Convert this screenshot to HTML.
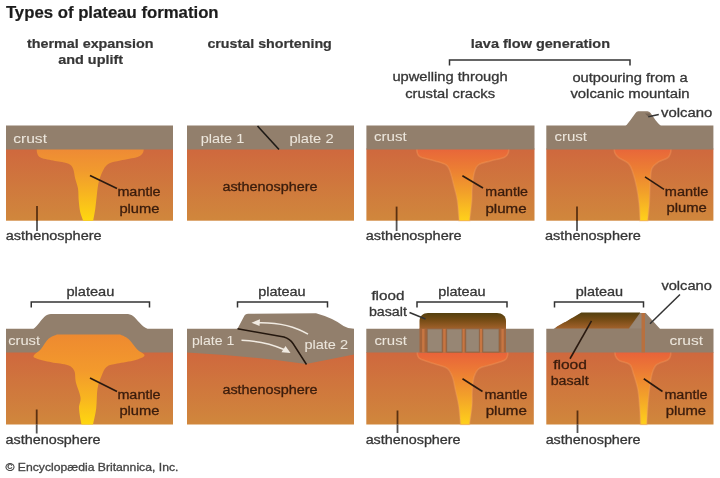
<!DOCTYPE html>
<html><head><meta charset="utf-8"><title>Types of plateau formation</title>
<style>
html,body{margin:0;padding:0;background:#fff;width:720px;height:478px;overflow:hidden}
svg{display:block;filter:blur(0.3px)}
text{font-family:"Liberation Sans",sans-serif}
</style></head><body>
<svg width="720" height="478" viewBox="0 0 720 478">
<defs>
<linearGradient id="a1" gradientUnits="userSpaceOnUse" x1="0" y1="148" x2="0" y2="221">
<stop offset="0" stop-color="#cf683e"/><stop offset="1" stop-color="#d0873c"/></linearGradient>
<linearGradient id="a2" gradientUnits="userSpaceOnUse" x1="0" y1="352" x2="0" y2="425">
<stop offset="0" stop-color="#cf683e"/><stop offset="1" stop-color="#d0873c"/></linearGradient>
<linearGradient id="pl1" gradientUnits="userSpaceOnUse" x1="0" y1="149" x2="0" y2="221">
<stop offset="0" stop-color="#ee8a35"/><stop offset="0.3" stop-color="#f19a2e"/><stop offset="0.6" stop-color="#f7b321"/><stop offset="1" stop-color="#ffd80f"/></linearGradient>
<linearGradient id="pl2" gradientUnits="userSpaceOnUse" x1="0" y1="335" x2="0" y2="425">
<stop offset="0" stop-color="#ee8a30"/><stop offset="0.4" stop-color="#f39a2c"/><stop offset="0.7" stop-color="#f8b520"/><stop offset="1" stop-color="#ffd80f"/></linearGradient>
<linearGradient id="pr1" gradientUnits="userSpaceOnUse" x1="0" y1="149" x2="0" y2="221">
<stop offset="0" stop-color="#e8663a"/><stop offset="0.3" stop-color="#ec8033"/><stop offset="0.6" stop-color="#f2a02a"/><stop offset="1" stop-color="#ffd21a"/></linearGradient>
<linearGradient id="pr2" gradientUnits="userSpaceOnUse" x1="0" y1="352" x2="0" y2="425">
<stop offset="0" stop-color="#e8623a"/><stop offset="0.25" stop-color="#ec7a35"/><stop offset="0.6" stop-color="#f2a02a"/><stop offset="1" stop-color="#ffd21a"/></linearGradient>
<linearGradient id="bas" x1="0" y1="0" x2="0" y2="1">
<stop offset="0" stop-color="#54400f"/><stop offset="0.45" stop-color="#764c15"/><stop offset="1" stop-color="#a2622c"/></linearGradient>
</defs>
<rect x="6" y="148.5" width="167" height="72.2" fill="url(#a1)" />
<rect x="187" y="148.5" width="167" height="72.2" fill="url(#a1)" />
<rect x="366.4" y="148.5" width="168.10000000000002" height="72.2" fill="url(#a1)" />
<rect x="546.3" y="148.5" width="167.10000000000002" height="72.2" fill="url(#a1)" />
<path fill="url(#pl1)" d="M36.7,148 C36.80,148.92 36.58,151.87 37.30,153.50 C38.02,155.13 38.05,156.55 41.00,157.80 C43.95,159.05 50.50,160.07 55.00,161.00 C59.50,161.93 65.00,162.17 68.00,163.40 C71.00,164.63 71.80,165.88 73.00,168.40 C74.20,170.92 74.37,175.15 75.20,178.50 C76.03,181.85 77.42,184.88 78.00,188.50 C78.58,192.12 78.33,196.28 78.70,200.20 C79.07,204.12 79.45,208.58 80.20,212.00 C80.95,215.42 82.70,219.25 83.20,220.70 L93.2,220.7 C93.55,218.68 94.70,212.85 95.30,208.60 C95.90,204.35 96.22,199.67 96.80,195.20 C97.38,190.73 97.72,186.00 98.80,181.80 C99.88,177.60 101.60,173.03 103.30,170.00 C105.00,166.97 106.15,165.18 109.00,163.60 C111.85,162.02 115.65,161.60 120.40,160.50 C125.15,159.40 133.77,158.25 137.50,157.00 C141.23,155.75 141.75,154.50 142.80,153.00 C143.85,151.50 143.63,148.83 143.80,148.00 Z"/>
<path fill="url(#pr1)" stroke="#f4a060" stroke-width="1.6" stroke-opacity="0.35" d="M416.7,148 C416.82,148.87 416.77,151.72 417.40,153.20 C418.03,154.68 417.57,155.62 420.50,156.90 C423.43,158.18 430.70,159.55 435.00,160.90 C439.30,162.25 443.77,163.18 446.30,165.00 C448.83,166.82 448.88,168.15 450.20,171.80 C451.52,175.45 453.02,182.17 454.20,186.90 C455.38,191.63 456.47,194.57 457.30,200.20 C458.13,205.83 458.88,217.28 459.20,220.70 L469.6,220.7 C469.97,217.28 471.37,205.83 471.80,200.20 C472.23,194.57 471.75,191.63 472.20,186.90 C472.65,182.17 473.40,175.52 474.50,171.80 C475.60,168.08 476.15,166.42 478.80,164.60 C481.45,162.78 486.12,162.13 490.40,160.90 C494.68,159.67 501.53,158.52 504.50,157.20 C507.47,155.88 507.48,154.53 508.20,153.00 C508.92,151.47 508.70,148.83 508.80,148.00 Z"/>
<path fill="url(#pr1)" stroke="#f4a060" stroke-width="1.6" stroke-opacity="0.35" d="M614.2,148 C614.32,148.83 614.17,151.40 614.90,153.00 C615.63,154.60 616.35,155.87 618.60,157.60 C620.85,159.33 626.07,161.03 628.40,163.40 C630.73,165.77 631.23,167.90 632.60,171.80 C633.97,175.70 635.52,181.50 636.60,186.80 C637.68,192.10 638.52,197.95 639.10,203.60 C639.68,209.25 639.93,217.85 640.10,220.70 L647.7,220.7 C647.97,217.85 648.88,210.08 649.30,203.60 C649.72,197.12 649.77,187.67 650.20,181.80 C650.63,175.93 650.50,171.72 651.90,168.40 C653.30,165.08 655.98,163.67 658.60,161.90 C661.22,160.13 665.62,159.28 667.60,157.80 C669.58,156.32 669.92,154.63 670.50,153.00 C671.08,151.37 671.00,148.83 671.10,148.00 Z"/>
<rect x="6" y="125.5" width="167" height="24" fill="#927f6c" />
<rect x="187" y="125.5" width="167" height="24" fill="#927f6c" />
<rect x="366.4" y="125.5" width="168.10000000000002" height="24" fill="#927f6c" />
<rect x="546.3" y="125.5" width="167.10000000000002" height="24" fill="#927f6c" />
<path fill="#927f6c" d="M625.5,126 C629,123 633,116 636,112.5 C637,111.5 638,111.3 639,111.3 L647.5,111.3 C648.5,111.3 649.5,112 650.5,113 C653.5,117 657,123 661,126 Z"/>
<path fill="#5e5045" d="M645,113.5 L648.5,117 L650.5,113.5 Z" opacity="0.55"/>
<path d="M257.5,126 L279,149.5" stroke="#1e1a16" stroke-width="1.6" fill="none"/>
<path d="M90,175.5 L117,188.5" stroke="#2a1a10" stroke-width="1.6" fill="none"/>
<path d="M37,206 L37,221" stroke="#5a3010" stroke-width="1.8"/>
<path d="M37,221 L37,231" stroke="#555" stroke-width="1.8"/>
<path d="M462.4,175.8 L483,188" stroke="#2a1a10" stroke-width="1.6" fill="none"/>
<path d="M396.6,206.6 L396.6,221" stroke="#5a3010" stroke-width="1.8"/>
<path d="M396.6,221 L396.6,231" stroke="#555" stroke-width="1.8"/>
<path d="M645,176.8 L664,189.4" stroke="#2a1a10" stroke-width="1.6" fill="none"/>
<path d="M577,206.6 L577,221" stroke="#5a3010" stroke-width="1.8"/>
<path d="M577,221 L577,231" stroke="#555" stroke-width="1.8"/>
<path d="M648.3,116.7 L658.8,114.6" stroke="#333" stroke-width="1.5" fill="none"/>
<path d="M449.5,65.5 L449.5,60 L630,60 L630,65.5" stroke="#333" stroke-width="1.5" fill="none"/>
<rect x="6" y="352" width="167" height="72.5" fill="url(#a2)" />
<path fill="#927f6c" d="M6,328.75 L33.5,328.75 C37,327 42,318 46,315.5 C48,314.2 50,314 53,314 L126,314 C129,314 131,314.5 133,316 C137,319 142,327 147.5,328.75 L173,328.75 L173,352.5 L6,352.5 Z"/>
<path fill="url(#pl2)" d="M120,334.5 L57,334.5 C55.58,335.22 51.20,336.35 48.50,338.80 C45.80,341.25 43.25,346.42 40.80,349.20 C38.35,351.98 34.52,353.95 33.80,355.50 C33.08,357.05 33.57,357.37 36.50,358.50 C39.43,359.63 46.15,361.18 51.40,362.30 C56.65,363.42 64.17,363.75 68.00,365.20 C71.83,366.65 73.10,368.20 74.40,371.00 C75.70,373.80 74.78,377.58 75.80,382.00 C76.82,386.42 79.97,393.10 80.50,397.50 C81.03,401.90 78.83,403.90 79.00,408.40 C79.17,412.90 81.08,421.82 81.50,424.50 L93,424.5 C93.53,421.82 95.45,414.37 96.20,408.40 C96.95,402.43 96.58,394.18 97.50,388.70 C98.42,383.22 100.20,379.13 101.70,375.50 C103.20,371.87 103.92,368.88 106.50,366.90 C109.08,364.92 112.48,364.72 117.20,363.60 C121.92,362.48 130.25,361.55 134.80,360.20 C139.35,358.85 144.13,357.33 144.50,355.50 C144.87,353.67 139.67,351.95 137.00,349.20 C134.33,346.45 131.33,341.45 128.50,339.00 C125.67,336.55 121.42,335.25 120.00,334.50 Z"/>
<path d="M90,378 L117,391.5" stroke="#2a1a10" stroke-width="1.6" fill="none"/>
<path d="M36.7,409.5 L36.7,424.5" stroke="#5a3010" stroke-width="1.8"/>
<path d="M36.7,424.5 L36.7,433.5" stroke="#555" stroke-width="1.8"/>
<path d="M31.25,307.5 L31.25,302 L149.5,302 L149.5,307.5" stroke="#333" stroke-width="1.5" fill="none"/>
<rect x="187" y="350" width="167" height="74.5" fill="url(#a2)" />
<path fill="#927f6c" d="M187,328.75 L237.5,328.75 L244.5,315.5 Q245.5,313.8 248,313.8 L316,313.3 Q333,318 343.5,326 Q348,328.8 354,328.8 L354,354.5 L306,364 Q250,356 187,352.5 Z"/>
<path d="M237.5,328.75 L284,337 Q290,339 293,343.5 L306.5,364.5" stroke="#24170e" stroke-width="1.5" fill="none"/>
<path d="M308,334.2 Q288,322 258,322.7" stroke="#f1ebe2" stroke-width="1.5" fill="none"/>
<path d="M251.5,322.7 L260,319.2 L259.5,326 Z" fill="#f1ebe2"/>
<path d="M241.5,340.3 Q265,341 284,349.5" stroke="#f1ebe2" stroke-width="1.5" fill="none"/>
<path d="M290.5,353 L281.5,352.3 L285.5,346 Z" fill="#f1ebe2"/>
<path d="M237.5,307.5 L237.5,302 L327.5,302 L327.5,307.5" stroke="#333" stroke-width="1.5" fill="none"/>
<rect x="366.3" y="352" width="167.5" height="72.5" fill="url(#a2)" />
<path fill="url(#pr2)" stroke="#f4a060" stroke-width="1.6" stroke-opacity="0.35" d="M417.1,351 C417.22,351.80 417.15,354.43 417.80,355.80 C418.45,357.17 417.85,357.75 421.00,359.20 C424.15,360.65 432.32,362.98 436.70,364.50 C441.08,366.02 444.67,366.22 447.30,368.30 C449.93,370.38 451.17,373.48 452.50,377.00 C453.83,380.52 454.27,384.67 455.30,389.40 C456.33,394.13 457.82,399.55 458.70,405.40 C459.58,411.25 460.28,421.32 460.60,424.50 L469.5,424.5 C469.92,421.32 471.55,410.95 472.00,405.40 C472.45,399.85 471.87,395.93 472.20,391.20 C472.53,386.47 472.82,380.82 474.00,377.00 C475.18,373.18 476.35,370.38 479.30,368.30 C482.25,366.22 487.50,365.83 491.70,364.50 C495.90,363.17 501.88,361.72 504.50,360.30 C507.12,358.88 506.87,357.55 507.40,356.00 C507.93,354.45 507.65,351.83 507.70,351.00 Z"/>
<rect x="366.3" y="328.75" width="167.5" height="23.75" fill="#927f6c" />
<path fill="url(#bas)" d="M419.5,329 L419.5,321 C419.5,316 423,313 428,313 L497,313 C502,313 506,316 506,321 L506,329 Z"/>
<rect x="419.5" y="328.5" width="86.5" height="24" fill="#a5643a" />
<rect x="422.1" y="329" width="2.4" height="23.5" fill="#cf7a45" opacity="0.8"/>
<rect x="443.2" y="329" width="2.4" height="23.5" fill="#cf7a45" opacity="0.8"/>
<rect x="462.2" y="329" width="2.4" height="23.5" fill="#cf7a45" opacity="0.8"/>
<rect x="479.8" y="329" width="2.4" height="23.5" fill="#cf7a45" opacity="0.8"/>
<rect x="501.40000000000003" y="329" width="2.4" height="23.5" fill="#cf7a45" opacity="0.8"/>
<rect x="427.2" y="328.9" width="14.9" height="23.1" fill="#978674" stroke="#8a5f3e" stroke-width="0.9" stroke-opacity="0.7"/>
<rect x="446.7" y="328.9" width="15.3" height="23.1" fill="#978674" stroke="#8a5f3e" stroke-width="0.9" stroke-opacity="0.7"/>
<rect x="465.8" y="328.9" width="13.5" height="23.1" fill="#978674" stroke="#8a5f3e" stroke-width="0.9" stroke-opacity="0.7"/>
<rect x="482.9" y="328.9" width="16.1" height="23.1" fill="#978674" stroke="#8a5f3e" stroke-width="0.9" stroke-opacity="0.7"/>
<path d="M462.5,378.75 L482.5,391.5" stroke="#2a1a10" stroke-width="1.6" fill="none"/>
<path d="M397.5,410.5 L397.5,424.5" stroke="#5a3010" stroke-width="1.8"/>
<path d="M397.5,424.5 L397.5,433" stroke="#555" stroke-width="1.8"/>
<path d="M409.5,312.5 L425.5,319" stroke="#333" stroke-width="1.5" fill="none"/>
<path d="M417,307.5 L417,302 L507,302 L507,307.5" stroke="#333" stroke-width="1.5" fill="none"/>
<rect x="546.3" y="352" width="167.2" height="72.5" fill="url(#a2)" />
<path fill="url(#pr2)" stroke="#f4a060" stroke-width="1.6" stroke-opacity="0.35" d="M614.8,351 C614.92,351.83 614.77,354.40 615.50,356.00 C616.23,357.60 616.80,359.17 619.20,360.60 C621.60,362.03 627.53,362.47 629.90,364.60 C632.27,366.73 632.07,369.27 633.40,373.40 C634.73,377.53 636.85,383.77 637.90,389.40 C638.95,395.03 639.25,401.35 639.70,407.20 C640.15,413.05 640.45,421.62 640.60,424.50 L646.8,424.5 C646.95,421.62 647.27,413.05 647.70,407.20 C648.13,401.35 648.67,395.03 649.40,389.40 C650.13,383.77 650.90,377.53 652.10,373.40 C653.30,369.27 654.02,366.83 656.60,364.60 C659.18,362.37 665.30,361.43 667.60,360.00 C669.90,358.57 669.87,357.50 670.40,356.00 C670.93,354.50 670.73,351.83 670.80,351.00 Z"/>
<path fill="#927f6c" d="M546.3,328.75 L553.6,328.75 L581.6,313 L640.3,313 L645.7,313 L658.3,327 L660,328.75 L713.5,328.75 L713.5,352.5 L546.3,352.5 Z"/>
<path fill="url(#bas)" d="M555,328.6 L557,326.6 L564,322.5 L566,321.8 L571,318.5 L573,317.5 L581.3,312.6 L640.3,312.6 L629.5,327.5 L629,328.6 Z"/>
<path fill="#9b8a7a" d="M629.5,328.5 L640.3,313.5 L642,313.5 L642,328.5 Z" opacity="0.7"/>
<rect x="641.5" y="313" width="3.5" height="39.5" fill="#b8703e" />
<path d="M643.75,378.75 L662.5,391.5" stroke="#2a1a10" stroke-width="1.6" fill="none"/>
<path d="M577.5,410.5 L577.5,424.5" stroke="#5a3010" stroke-width="1.8"/>
<path d="M577.5,424.5 L577.5,433" stroke="#555" stroke-width="1.8"/>
<path d="M591.5,320.8 L570,358.75" stroke="#2a1a10" stroke-width="1.6" fill="none"/>
<path d="M680,294.5 L650,323.75" stroke="#333" stroke-width="1.5" fill="none"/>
<path d="M554.5,307.5 L554.5,302 L643.5,302 L643.5,307.5" stroke="#333" stroke-width="1.5" fill="none"/>
<text x="5.90" y="17.60" font-size="16" font-weight="bold" fill="#1c1c1c" stroke="#1c1c1c" stroke-width="0.2" textLength="212.70" lengthAdjust="spacingAndGlyphs">Types of plateau formation</text>
<text x="26.90" y="47.50" font-size="13" font-weight="bold" fill="#363636" stroke="#363636" stroke-width="0.2" textLength="126.70" lengthAdjust="spacingAndGlyphs">thermal expansion</text>
<text x="58.15" y="63.75" font-size="13" font-weight="bold" fill="#363636" stroke="#363636" stroke-width="0.2" textLength="64.95" lengthAdjust="spacingAndGlyphs">and uplift</text>
<text x="207.40" y="48.00" font-size="13" font-weight="bold" fill="#363636" stroke="#363636" stroke-width="0.2" textLength="124.45" lengthAdjust="spacingAndGlyphs">crustal shortening</text>
<text x="470.80" y="48.00" font-size="13" font-weight="bold" fill="#363636" stroke="#363636" stroke-width="0.2" textLength="139.20" lengthAdjust="spacingAndGlyphs">lava flow generation</text>
<text x="392.40" y="81.25" font-size="12.5" font-weight="normal" fill="#363636" stroke="#363636" stroke-width="0.3" textLength="115.20" lengthAdjust="spacingAndGlyphs">upwelling through</text>
<text x="405.15" y="97.50" font-size="12.5" font-weight="normal" fill="#363636" stroke="#363636" stroke-width="0.3" textLength="89.95" lengthAdjust="spacingAndGlyphs">crustal cracks</text>
<text x="572.40" y="81.70" font-size="12.5" font-weight="normal" fill="#363636" stroke="#363636" stroke-width="0.3" textLength="115.20" lengthAdjust="spacingAndGlyphs">outpouring from a</text>
<text x="570.40" y="97.50" font-size="12.5" font-weight="normal" fill="#363636" stroke="#363636" stroke-width="0.3" textLength="119.20" lengthAdjust="spacingAndGlyphs">volcanic mountain</text>
<text x="13.20" y="142.60" font-size="12.5" font-weight="normal" fill="#ece6dc" stroke="#ece6dc" stroke-width="0.05" textLength="33.80" lengthAdjust="spacingAndGlyphs">crust</text>
<text x="117.40" y="196.00" font-size="12.5" font-weight="normal" fill="#3a1c0c" stroke="#3a1c0c" stroke-width="0.3" textLength="43.20" lengthAdjust="spacingAndGlyphs">mantle</text>
<text x="119.40" y="213.00" font-size="12.5" font-weight="normal" fill="#3a1c0c" stroke="#3a1c0c" stroke-width="0.3" textLength="39.95" lengthAdjust="spacingAndGlyphs">plume</text>
<text x="5.80" y="240.40" font-size="12.5" font-weight="normal" fill="#363636" stroke="#363636" stroke-width="0.3" textLength="95.80" lengthAdjust="spacingAndGlyphs">asthenosphere</text>
<text x="200.65" y="142.50" font-size="12.5" font-weight="normal" fill="#ece6dc" stroke="#ece6dc" stroke-width="0.05" textLength="43.70" lengthAdjust="spacingAndGlyphs">plate 1</text>
<text x="289.40" y="142.50" font-size="12.5" font-weight="normal" fill="#ece6dc" stroke="#ece6dc" stroke-width="0.05" textLength="44.20" lengthAdjust="spacingAndGlyphs">plate 2</text>
<text x="222.40" y="190.50" font-size="12.5" font-weight="normal" fill="#3a1c0c" stroke="#3a1c0c" stroke-width="0.3" textLength="95.20" lengthAdjust="spacingAndGlyphs">asthenosphere</text>
<text x="374.00" y="140.70" font-size="12.5" font-weight="normal" fill="#ece6dc" stroke="#ece6dc" stroke-width="0.05" textLength="32.80" lengthAdjust="spacingAndGlyphs">crust</text>
<text x="485.30" y="196.00" font-size="12.5" font-weight="normal" fill="#3a1c0c" stroke="#3a1c0c" stroke-width="0.3" textLength="42.70" lengthAdjust="spacingAndGlyphs">mantle</text>
<text x="485.40" y="213.00" font-size="12.5" font-weight="normal" fill="#3a1c0c" stroke="#3a1c0c" stroke-width="0.3" textLength="41.20" lengthAdjust="spacingAndGlyphs">plume</text>
<text x="365.80" y="240.40" font-size="12.5" font-weight="normal" fill="#363636" stroke="#363636" stroke-width="0.3" textLength="95.80" lengthAdjust="spacingAndGlyphs">asthenosphere</text>
<text x="661.10" y="117.20" font-size="12.5" font-weight="normal" fill="#363636" stroke="#363636" stroke-width="0.3" textLength="51.30" lengthAdjust="spacingAndGlyphs">volcano</text>
<text x="554.40" y="141.40" font-size="12.5" font-weight="normal" fill="#ece6dc" stroke="#ece6dc" stroke-width="0.05" textLength="32.60" lengthAdjust="spacingAndGlyphs">crust</text>
<text x="664.80" y="195.60" font-size="12.5" font-weight="normal" fill="#3a1c0c" stroke="#3a1c0c" stroke-width="0.3" textLength="43.60" lengthAdjust="spacingAndGlyphs">mantle</text>
<text x="666.40" y="212.30" font-size="12.5" font-weight="normal" fill="#3a1c0c" stroke="#3a1c0c" stroke-width="0.3" textLength="40.40" lengthAdjust="spacingAndGlyphs">plume</text>
<text x="545.00" y="240.40" font-size="12.5" font-weight="normal" fill="#363636" stroke="#363636" stroke-width="0.3" textLength="95.90" lengthAdjust="spacingAndGlyphs">asthenosphere</text>
<text x="66.40" y="295.50" font-size="12.5" font-weight="normal" fill="#363636" stroke="#363636" stroke-width="0.3" textLength="47.95" lengthAdjust="spacingAndGlyphs">plateau</text>
<text x="8.15" y="344.50" font-size="12.5" font-weight="normal" fill="#ece6dc" stroke="#ece6dc" stroke-width="0.05" textLength="31.95" lengthAdjust="spacingAndGlyphs">crust</text>
<text x="117.40" y="398.75" font-size="12.5" font-weight="normal" fill="#3a1c0c" stroke="#3a1c0c" stroke-width="0.3" textLength="43.20" lengthAdjust="spacingAndGlyphs">mantle</text>
<text x="119.40" y="415.00" font-size="12.5" font-weight="normal" fill="#3a1c0c" stroke="#3a1c0c" stroke-width="0.3" textLength="39.95" lengthAdjust="spacingAndGlyphs">plume</text>
<text x="5.50" y="443.80" font-size="12.5" font-weight="normal" fill="#363636" stroke="#363636" stroke-width="0.3" textLength="95.10" lengthAdjust="spacingAndGlyphs">asthenosphere</text>
<text x="258.15" y="295.50" font-size="12.5" font-weight="normal" fill="#363636" stroke="#363636" stroke-width="0.3" textLength="47.45" lengthAdjust="spacingAndGlyphs">plateau</text>
<text x="191.90" y="344.50" font-size="12.5" font-weight="normal" fill="#ece6dc" stroke="#ece6dc" stroke-width="0.05" textLength="42.45" lengthAdjust="spacingAndGlyphs">plate 1</text>
<text x="304.40" y="348.75" font-size="12.5" font-weight="normal" fill="#ece6dc" stroke="#ece6dc" stroke-width="0.05" textLength="43.70" lengthAdjust="spacingAndGlyphs">plate 2</text>
<text x="222.40" y="393.75" font-size="12.5" font-weight="normal" fill="#3a1c0c" stroke="#3a1c0c" stroke-width="0.3" textLength="95.20" lengthAdjust="spacingAndGlyphs">asthenosphere</text>
<text x="371.40" y="299.50" font-size="12.5" font-weight="normal" fill="#363636" stroke="#363636" stroke-width="0.3" textLength="32.95" lengthAdjust="spacingAndGlyphs">flood</text>
<text x="368.90" y="315.75" font-size="12.5" font-weight="normal" fill="#363636" stroke="#363636" stroke-width="0.3" textLength="37.95" lengthAdjust="spacingAndGlyphs">basalt</text>
<text x="438.15" y="295.50" font-size="12.5" font-weight="normal" fill="#363636" stroke="#363636" stroke-width="0.3" textLength="47.45" lengthAdjust="spacingAndGlyphs">plateau</text>
<text x="374.40" y="344.50" font-size="12.5" font-weight="normal" fill="#ece6dc" stroke="#ece6dc" stroke-width="0.05" textLength="32.45" lengthAdjust="spacingAndGlyphs">crust</text>
<text x="484.40" y="399.25" font-size="12.5" font-weight="normal" fill="#3a1c0c" stroke="#3a1c0c" stroke-width="0.3" textLength="43.20" lengthAdjust="spacingAndGlyphs">mantle</text>
<text x="485.65" y="415.00" font-size="12.5" font-weight="normal" fill="#3a1c0c" stroke="#3a1c0c" stroke-width="0.3" textLength="41.20" lengthAdjust="spacingAndGlyphs">plume</text>
<text x="365.65" y="443.80" font-size="12.5" font-weight="normal" fill="#363636" stroke="#363636" stroke-width="0.3" textLength="94.95" lengthAdjust="spacingAndGlyphs">asthenosphere</text>
<text x="575.65" y="295.50" font-size="12.5" font-weight="normal" fill="#363636" stroke="#363636" stroke-width="0.3" textLength="47.45" lengthAdjust="spacingAndGlyphs">plateau</text>
<text x="661.40" y="290.00" font-size="12.5" font-weight="normal" fill="#363636" stroke="#363636" stroke-width="0.3" textLength="50.45" lengthAdjust="spacingAndGlyphs">volcano</text>
<text x="669.40" y="344.50" font-size="12.5" font-weight="normal" fill="#ece6dc" stroke="#ece6dc" stroke-width="0.05" textLength="33.70" lengthAdjust="spacingAndGlyphs">crust</text>
<text x="553.15" y="368.75" font-size="12.5" font-weight="normal" fill="#3a1c0c" stroke="#3a1c0c" stroke-width="0.3" textLength="33.70" lengthAdjust="spacingAndGlyphs">flood</text>
<text x="550.65" y="385.00" font-size="12.5" font-weight="normal" fill="#3a1c0c" stroke="#3a1c0c" stroke-width="0.3" textLength="37.95" lengthAdjust="spacingAndGlyphs">basalt</text>
<text x="664.40" y="399.25" font-size="12.5" font-weight="normal" fill="#3a1c0c" stroke="#3a1c0c" stroke-width="0.3" textLength="43.20" lengthAdjust="spacingAndGlyphs">mantle</text>
<text x="665.65" y="415.00" font-size="12.5" font-weight="normal" fill="#3a1c0c" stroke="#3a1c0c" stroke-width="0.3" textLength="40.45" lengthAdjust="spacingAndGlyphs">plume</text>
<text x="545.65" y="443.80" font-size="12.5" font-weight="normal" fill="#363636" stroke="#363636" stroke-width="0.3" textLength="94.95" lengthAdjust="spacingAndGlyphs">asthenosphere</text>
<text x="5.50" y="471.40" font-size="11" font-weight="normal" fill="#444" stroke="#444" stroke-width="0.3" textLength="172.90" lengthAdjust="spacingAndGlyphs">© Encyclopædia Britannica, Inc.</text>
</svg>
</body></html>
